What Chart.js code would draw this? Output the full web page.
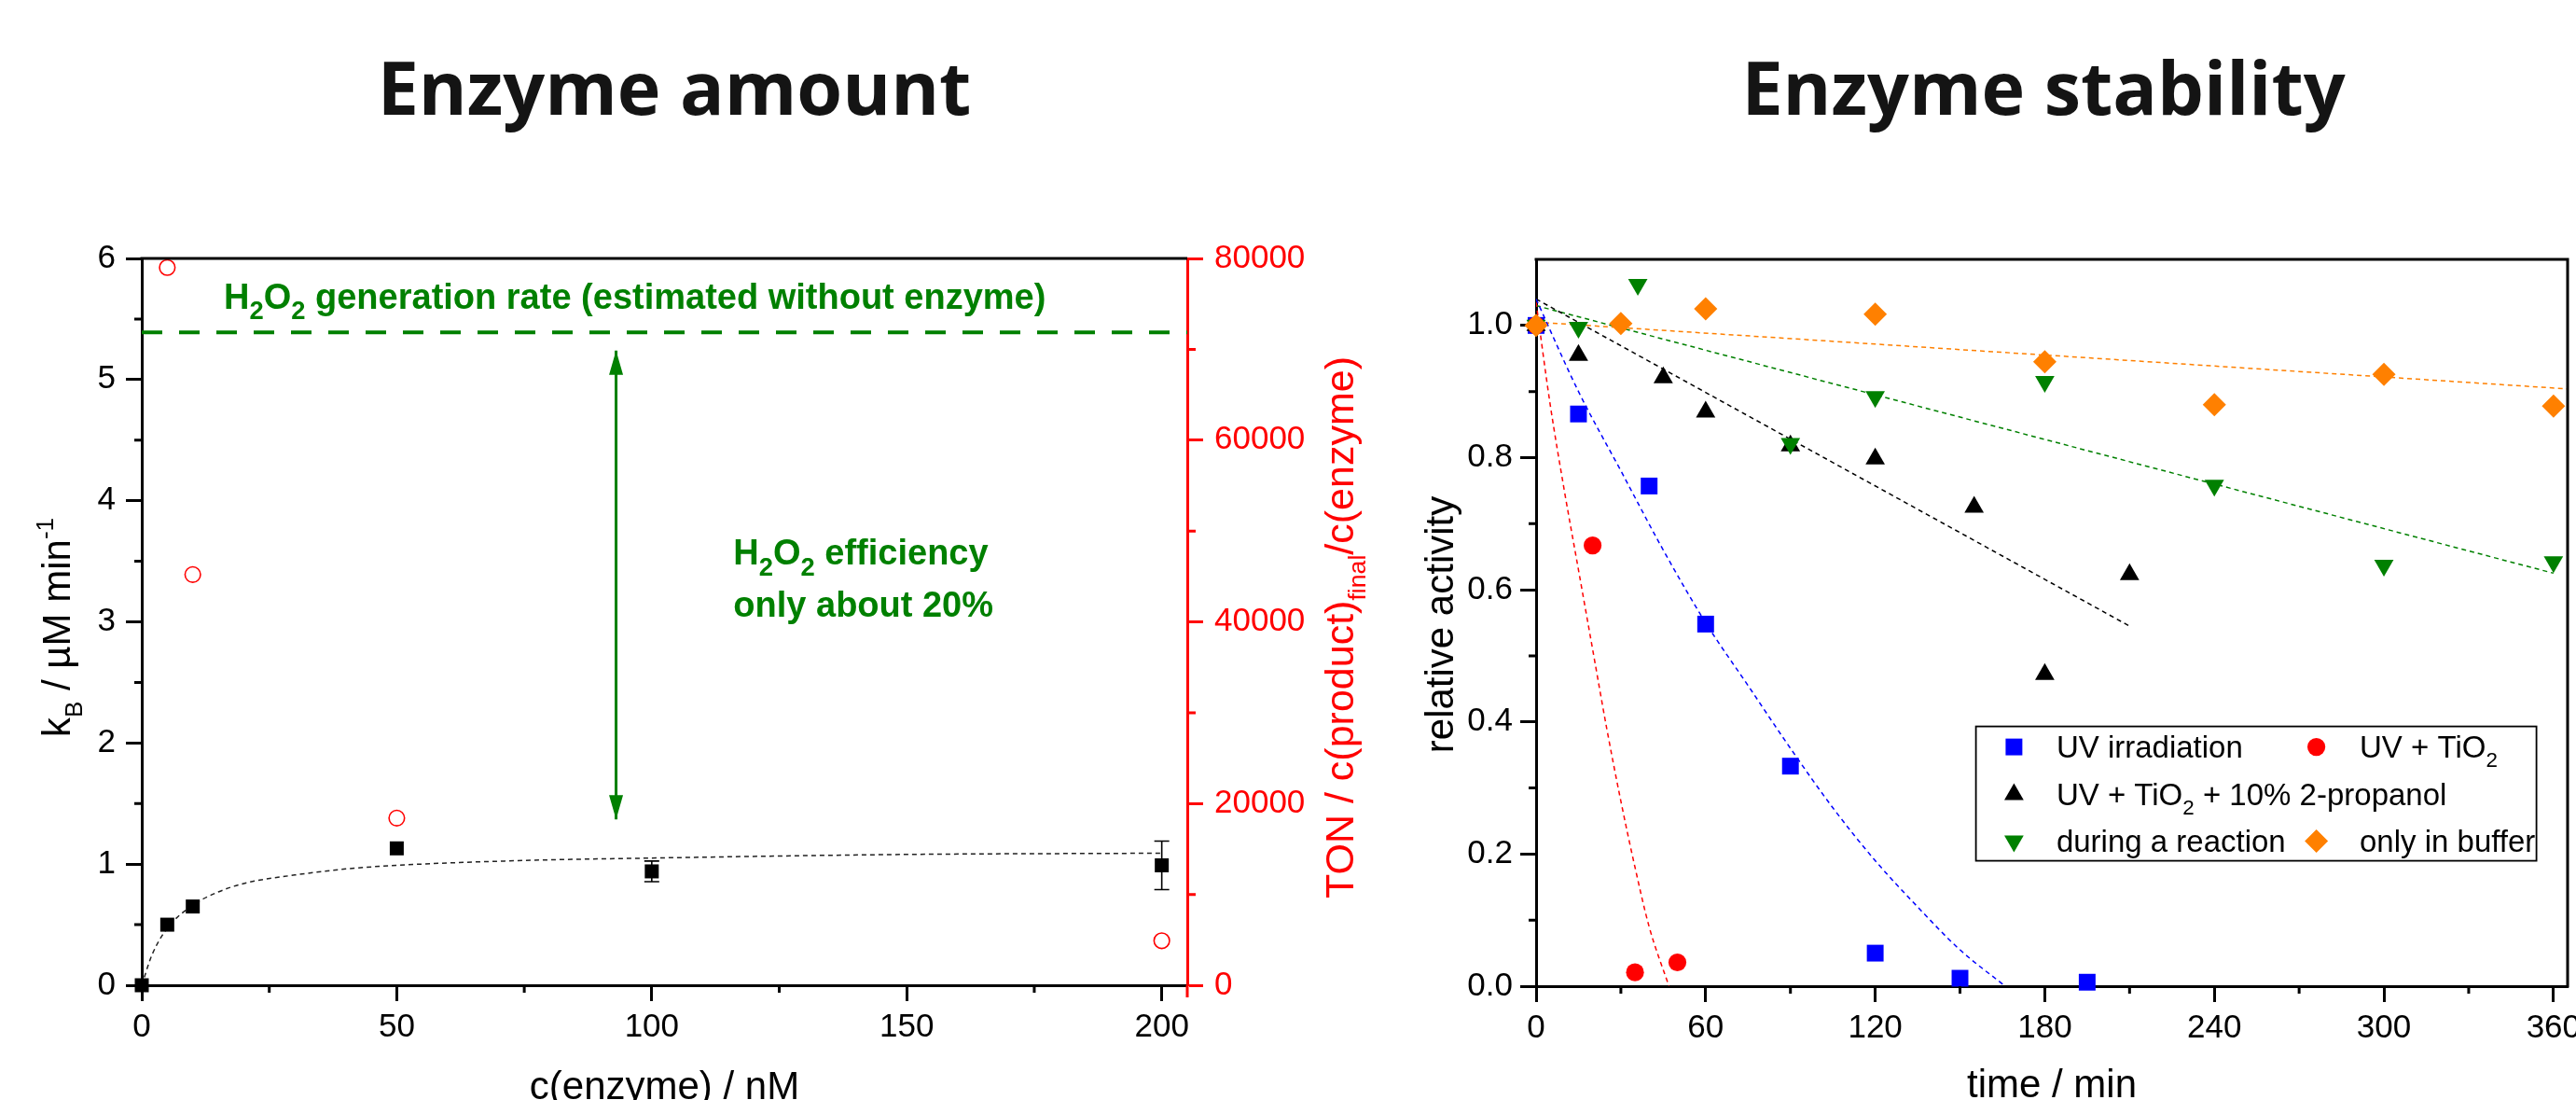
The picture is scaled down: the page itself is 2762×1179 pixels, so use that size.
<!DOCTYPE html>
<html><head><meta charset="utf-8">
<script src="https://cdn.jsdelivr.net/npm/chart.js@4.4.1/dist/chart.umd.min.js"></script>
<style>
html,body{margin:0;padding:0;background:#fff;}
body{width:2762px;height:1179px;overflow:hidden;position:relative;}
.ttl{position:absolute;top:54px;font-family:'Open Sans',sans-serif;font-weight:700;font-size:79px;line-height:78px;color:#141414;white-space:nowrap;transform:translateX(-50%);}
#w1{position:absolute;left:0;top:0;width:1480px;height:1179px;}
#w2{position:absolute;left:1480px;top:0;width:1320px;height:1179px;}
canvas{display:block;}
</style></head><body>
<div class="ttl" style="left:723px">Enzyme amount</div>
<div class="ttl" style="left:2191px">Enzyme stability</div>
<div id="w1"><canvas id="c1" width="1480" height="1179"></canvas></div>
<div id="w2"><canvas id="c2" width="1320" height="1179"></canvas></div>
<script>
// ---------------- data: left panel (enzyme amount) ----------------
const enzymeConc = [0, 5, 10, 50, 100, 200];
const kB = [0, 0.50, 0.65, 1.13, 0.94, 0.99];
const kBErr = [0, 0, 0, 0, 0.085, 0.20];
const tonConc = [5, 10, 50, 200];
const tonValues = [79000, 45200, 18400, 4900];
const kBFitX = [0, 2, 5, 10, 15, 20, 30, 40, 50, 75, 100, 150, 200];
const kBFitY = [0, 0.25, 0.47, 0.66, 0.77, 0.84, 0.91, 0.96, 0.99, 1.03, 1.05, 1.08, 1.09];
const h2o2RateX = [0, 205];
const h2o2RateY = [5.39, 5.39];
const arrowX = [93, 93];
const arrowY = [1.37, 5.24];
const concTicks = [0, 50, 100, 150, 200];
const concMinor = [25, 75, 125, 175];
const kBTicks = [0, 1, 2, 3, 4, 5, 6];
const kBMinor = [0.5, 1.5, 2.5, 3.5, 4.5, 5.5];
const tonTicks = [0, 20000, 40000, 60000, 80000];
const tonMinor = [10000, 30000, 50000, 70000];

// ---------------- data: right panel (enzyme stability) ----------------
const timeUV = [0, 15, 40, 60, 90, 120, 150, 195];
const actUV = [1.0, 0.866, 0.757, 0.548, 0.333, 0.05, 0.012, 0.006];
const timeTiO2 = [0, 20, 35, 50];
const actTiO2 = [1.0, 0.667, 0.021, 0.036];
const timeProp = [0, 15, 45, 60, 90, 120, 155, 180, 210];
const actProp = [1.0, 0.955, 0.921, 0.869, 0.818, 0.798, 0.725, 0.472, 0.623];
const timeReact = [0, 15, 36, 90, 120, 180, 240, 300, 360];
const actReact = [1.0, 0.997, 1.062, 0.821, 0.892, 0.915, 0.758, 0.637, 0.642];
const timeBuffer = [0, 30, 60, 120, 180, 240, 300, 360];
const actBuffer = [1.0, 1.003, 1.025, 1.017, 0.945, 0.880, 0.926, 0.878];
const fitTiO2X = [0, 5, 10, 15, 20, 25, 30, 35, 40, 47];
const fitTiO2Y = [1.035, 0.88, 0.75, 0.63, 0.51, 0.39, 0.28, 0.18, 0.09, 0];
const fitUVX = [0, 15, 30, 45, 60, 75, 90, 105, 120, 135, 150, 166];
const fitUVY = [1.04, 0.90, 0.78, 0.66, 0.55, 0.455, 0.36, 0.27, 0.19, 0.12, 0.055, 0];
const fitPropX = [0, 210];
const fitPropY = [1.04, 0.545];
const fitReactX = [0, 360];
const fitReactY = [1.03, 0.625];
const fitBufferX = [0, 365];
const fitBufferY = [1.005, 0.904];
const timeTicks = [0, 60, 120, 180, 240, 300, 360];
const timeMinor = [30, 90, 150, 210, 270, 330];
const actTicks = [0, 0.2, 0.4, 0.6, 0.8, 1.0];
const actMinor = [0.1, 0.3, 0.5, 0.7, 0.9];

// ---------------- helpers ----------------
const FONT = "'Liberation Sans', Arial, Helvetica, sans-serif";
const GREEN = '#008000', RED = '#ff0000', BLUE = '#0000ff', ORANGE = '#ff8000';
const pts = (xs, ys) => xs.map((x, i) => ({x, y: ys[i]}));

function drawRich(ctx, segs, x, y, o) {
  ctx.save();
  ctx.translate(x, y);
  if (o.rotate) ctx.rotate(o.rotate);
  ctx.fillStyle = o.color || '#000';
  ctx.textBaseline = 'alphabetic';
  ctx.textAlign = 'left';
  const sc = o.scriptScale || 0.68;
  const parts = segs.map(s => {
    const sz = (s.sub || s.sup) ? o.size * sc : o.size;
    const font = (o.weight || 'normal') + ' ' + sz + 'px ' + FONT;
    ctx.font = font;
    return {t: s.t, font, w: ctx.measureText(s.t).width,
            dy: s.sub ? o.size * (o.subDrop || 0.3) : (s.sup ? -o.size * 0.42 : 0)};
  });
  const total = parts.reduce((a, p) => a + p.w, 0);
  let cx = o.align === 'center' ? -total / 2 : 0;
  for (const p of parts) { ctx.font = p.font; ctx.fillText(p.t, cx, p.dy); cx += p.w; }
  ctx.restore();
}

function minorTicks(ctx, scale, values, len, color, width) {
  ctx.save();
  ctx.strokeStyle = color; ctx.lineWidth = width; ctx.lineCap = 'butt';
  ctx.beginPath();
  for (const v of values) {
    const p = scale.getPixelForValue(v);
    if (scale.position === 'bottom') { ctx.moveTo(p, scale.top); ctx.lineTo(p, scale.top + len); }
    else if (scale.position === 'left') { ctx.moveTo(scale.right, p); ctx.lineTo(scale.right - len, p); }
    else { ctx.moveTo(scale.left, p); ctx.lineTo(scale.left + len, p); }
  }
  ctx.stroke();
  ctx.restore();
}

function axis(opts) {
  const {pos, min, max, ticks, color, width, height, padding, fmt, size} = opts;
  return {
    type: 'linear', position: pos, min, max,
    afterBuildTicks: s => { s.ticks = ticks.map(v => ({value: v})); },
    afterFit: s => { if (width !== undefined) s.width = width; if (height !== undefined) s.height = height; },
    ticks: {autoSkip: false, maxRotation: 0, minRotation: 0, padding, color,
            font: {family: FONT, size: size || 35}, callback: fmt || (v => String(v))},
    grid: {display: true, drawOnChartArea: false, drawTicks: true, tickLength: 17, tickWidth: 3, tickColor: color},
    border: {display: true, color, width: 3}
  };
}

const commonOpts = {
  responsive: false, animation: false, events: [],
  plugins: {legend: {display: false}, tooltip: {enabled: false}, title: {display: false}}
};

// ---------------- left chart ----------------
const amountPlugin = {
  id: 'amountExtras',
  beforeDatasetsDraw(chart) {
    const ctx = chart.ctx, xs = chart.scales.x, ys = chart.scales.y;
    ctx.save();
    ctx.strokeStyle = '#000'; ctx.lineWidth = 1.6;
    enzymeConc.forEach((c, i) => {
      if (!kBErr[i]) return;
      const px = xs.getPixelForValue(c);
      const y1 = ys.getPixelForValue(kB[i] + kBErr[i]);
      const y2 = ys.getPixelForValue(kB[i] - kBErr[i]);
      ctx.beginPath();
      ctx.moveTo(px, y1); ctx.lineTo(px, y2);
      ctx.moveTo(px - 8, y1); ctx.lineTo(px + 8, y1);
      ctx.moveTo(px - 8, y2); ctx.lineTo(px + 8, y2);
      ctx.stroke();
    });
    ctx.restore();
  },
  afterDatasetsDraw(chart) {
    const ctx = chart.ctx, xs = chart.scales.x, ys = chart.scales.y;
    const px = xs.getPixelForValue(arrowX[0]);
    const top = ys.getPixelForValue(arrowY[1]);
    const bot = ys.getPixelForValue(arrowY[0]);
    ctx.save();
    ctx.fillStyle = GREEN;
    ctx.beginPath();
    ctx.moveTo(px, top); ctx.lineTo(px - 7.5, top + 26); ctx.lineTo(px + 7.5, top + 26); ctx.closePath();
    ctx.moveTo(px, bot); ctx.lineTo(px - 7.5, bot - 26); ctx.lineTo(px + 7.5, bot - 26); ctx.closePath();
    ctx.fill();
    ctx.restore();
  },
  afterDraw(chart) {
    const ctx = chart.ctx, a = chart.chartArea, xs = chart.scales.x, ys = chart.scales.y;
    ctx.save();
    ctx.strokeStyle = '#000'; ctx.lineWidth = 3;
    ctx.beginPath(); ctx.moveTo(a.left - 1.5, a.top); ctx.lineTo(a.right, a.top); ctx.stroke();
    ctx.strokeStyle = RED;
    ctx.beginPath(); ctx.moveTo(a.right, a.bottom); ctx.lineTo(a.right, a.bottom + 13); ctx.stroke();
    ctx.restore();
    minorTicks(ctx, xs, concMinor, 8, '#000', 3);
    minorTicks(ctx, ys, kBMinor, 8, '#000', 3);
    minorTicks(ctx, chart.scales.y1, tonMinor, 9, RED, 3);
    drawRich(ctx, [{t: 'H'}, {t: '2', sub: 1}, {t: 'O'}, {t: '2', sub: 1}, {t: ' generation rate (estimated without enzyme)'}],
      xs.getPixelForValue(16.1), ys.getPixelForValue(5.585), {size: 38, weight: 'bold', color: GREEN, scriptScale: 0.72});
    drawRich(ctx, [{t: 'H'}, {t: '2', sub: 1}, {t: 'O'}, {t: '2', sub: 1}, {t: ' efficiency'}],
      xs.getPixelForValue(116), ys.getPixelForValue(3.47), {size: 38, weight: 'bold', color: GREEN, scriptScale: 0.72});
    drawRich(ctx, [{t: 'only about 20%'}],
      xs.getPixelForValue(116), ys.getPixelForValue(3.04), {size: 38, weight: 'bold', color: GREEN});
    const cy = (a.top + a.bottom) / 2 + 6;
    drawRich(ctx, [{t: 'k'}, {t: 'B', sub: 1}, {t: ' / \u00B5M min'}, {t: '-1', sup: 1}],
      a.left - 77, cy, {size: 42, color: '#000', align: 'center', rotate: -Math.PI / 2, scriptScale: 0.62});
    drawRich(ctx, [{t: 'TON / c(product)'}, {t: 'final', sub: 1}, {t: '/c(enzyme)'}],
      a.right + 178, cy, {size: 43, color: RED, align: 'center', rotate: -Math.PI / 2, scriptScale: 0.62});
    drawRich(ctx, [{t: 'c(enzyme) / nM'}], (a.left + a.right) / 2, a.bottom + 122,
      {size: 42, color: '#000', align: 'center'});
  }
};

new Chart(document.getElementById('c1'), {
  type: 'scatter',
  data: {datasets: [
    {label: 'TON', data: pts(tonConc, tonValues), yAxisID: 'y1', pointStyle: 'circle', pointRadius: 8.3,
     borderColor: RED, backgroundColor: 'rgba(255,255,255,0)', pointBorderWidth: 1.6, order: 1, clip: false},
    {label: 'kB', data: pts(enzymeConc, kB), yAxisID: 'y', pointStyle: 'rect', pointRadius: 10.6,
     borderColor: '#000', backgroundColor: '#000', pointBorderWidth: 0, order: 2, clip: false},
    {label: 'fit', data: pts(kBFitX, kBFitY), yAxisID: 'y', showLine: true, pointRadius: 0,
     borderColor: '#222', borderWidth: 1.5, borderDash: [5, 4], cubicInterpolationMode: 'monotone', order: 5},
    {label: 'H2O2 generation rate', data: pts(h2o2RateX, h2o2RateY), yAxisID: 'y', showLine: true, pointRadius: 0,
     borderColor: GREEN, borderWidth: 4, borderDash: [22, 18], order: 6, clip: false},
    {label: 'efficiency arrow', data: pts(arrowX, arrowY), yAxisID: 'y', showLine: true, pointRadius: 0,
     borderColor: GREEN, borderWidth: 3, order: 7}
  ]},
  options: Object.assign({}, commonOpts, {
    layout: {padding: {left: 0, right: 0, top: 277, bottom: 0}},
    scales: {
      x: axis({pos: 'bottom', min: 0, max: 205, ticks: concTicks, color: '#000', height: 123, padding: 7}),
      y: axis({pos: 'left', min: 0, max: 6, ticks: kBTicks, color: '#000', width: 152, padding: 11}),
      y1: axis({pos: 'right', min: 0, max: 80000, ticks: tonTicks, color: RED, width: 207, padding: 12})
    }
  }),
  plugins: [amountPlugin]
});

// ---------------- right chart ----------------
const legendRows = [
  {ds: 0, col: 0, row: 0, text: [{t: 'UV irradiation'}]},
  {ds: 1, col: 1, row: 0, text: [{t: 'UV + TiO'}, {t: '2', sub: 1}]},
  {ds: 2, col: 0, row: 1, text: [{t: 'UV + TiO'}, {t: '2', sub: 1}, {t: ' + 10% 2-propanol'}]},
  {ds: 3, col: 0, row: 2, text: [{t: 'during a reaction'}]},
  {ds: 4, col: 1, row: 2, text: [{t: 'only in buffer'}]}
];

const stabilityPlugin = {
  id: 'stabilityExtras',
  afterDraw(chart) {
    const ctx = chart.ctx, a = chart.chartArea, xs = chart.scales.x, ys = chart.scales.y;
    ctx.save();
    ctx.strokeStyle = '#000'; ctx.lineWidth = 3;
    ctx.beginPath();
    ctx.moveTo(a.left - 1.5, a.top); ctx.lineTo(a.right, a.top); ctx.lineTo(a.right, a.bottom + 1.5);
    ctx.stroke();
    ctx.restore();
    minorTicks(ctx, xs, timeMinor, 8, '#000', 3);
    minorTicks(ctx, ys, actMinor, 8, '#000', 3);
    const bx = a.right - 634.4, by = a.top + 500.6, bw = 601, bh = 144;
    ctx.save();
    ctx.strokeStyle = '#000'; ctx.lineWidth = 1.8;
    ctx.strokeRect(bx, by, bw, bh);
    const markX = [40.8, 365], textX = [86.3, 411.4], baseY = [33.5, 84.5, 134.5];
    for (const it of legendRows) {
      const ds = chart.data.datasets[it.ds];
      ctx.fillStyle = ds.backgroundColor; ctx.strokeStyle = ds.backgroundColor;
      Chart.helpers.drawPoint(ctx, {pointStyle: ds.pointStyle, radius: ds.pointRadius,
        rotation: ds.pointRotation || 0, borderWidth: 0}, bx + markX[it.col], by + baseY[it.row] - 11.5);
      drawRich(ctx, it.text, bx + textX[it.col], by + baseY[it.row], {size: 33, color: '#000', scriptScale: 0.68});
    }
    ctx.restore();
    const cy = (a.top + a.bottom) / 2 + 2;
    drawRich(ctx, [{t: 'relative activity'}], a.left - 89, cy,
      {size: 42, color: '#000', align: 'center', rotate: -Math.PI / 2});
    drawRich(ctx, [{t: 'time / min'}], (a.left + a.right) / 2, a.bottom + 119,
      {size: 42, color: '#000', align: 'center'});
  }
};

const lineDs = (label, xs, ys, color, mono) => ({label, data: pts(xs, ys), showLine: true, pointRadius: 0,
  borderColor: color, backgroundColor: color, borderWidth: 1.5, borderDash: [5, 4],
  cubicInterpolationMode: mono ? 'monotone' : 'default', order: 20});

new Chart(document.getElementById('c2'), {
  type: 'scatter',
  data: {datasets: [
    {label: 'UV irradiation', data: pts(timeUV, actUV), pointStyle: 'rect', pointRadius: 12.7,
     backgroundColor: BLUE, borderColor: BLUE, pointBorderWidth: 0, order: 5, clip: false},
    {label: 'UV + TiO2', data: pts(timeTiO2, actTiO2), pointStyle: 'circle', pointRadius: 9.6,
     backgroundColor: RED, borderColor: RED, pointBorderWidth: 0, order: 4, clip: false},
    {label: 'UV + TiO2 + 10% 2-propanol', data: pts(timeProp, actProp), pointStyle: 'triangle', pointRadius: 12,
     backgroundColor: '#000', borderColor: '#000', pointBorderWidth: 0, order: 3, clip: false},
    {label: 'during a reaction', data: pts(timeReact, actReact), pointStyle: 'triangle', pointRotation: 180, pointRadius: 12,
     backgroundColor: GREEN, borderColor: GREEN, pointBorderWidth: 0, order: 2, clip: false},
    {label: 'only in buffer', data: pts(timeBuffer, actBuffer), pointStyle: 'rectRot', pointRadius: 12.5,
     backgroundColor: ORANGE, borderColor: ORANGE, pointBorderWidth: 0, order: 1, clip: false},
    lineDs('fit UV + TiO2', fitTiO2X, fitTiO2Y, RED, true),
    lineDs('fit UV', fitUVX, fitUVY, BLUE, true),
    lineDs('fit 2-propanol', fitPropX, fitPropY, '#000', false),
    lineDs('fit reaction', fitReactX, fitReactY, GREEN, false),
    lineDs('fit buffer', fitBufferX, fitBufferY, ORANGE, false)
  ]},
  options: Object.assign({}, commonOpts, {
    layout: {padding: {left: 0, right: 47, top: 278, bottom: 0}},
    scales: {
      x: axis({pos: 'bottom', min: 0, max: 365, ticks: timeTicks, color: '#000', height: 122, padding: 7}),
      y: axis({pos: 'left', min: 0, max: 1.1, ticks: actTicks, color: '#000', width: 167, padding: 8,
               fmt: v => v.toFixed(1)})
    }
  }),
  plugins: [stabilityPlugin]
});
</script>
</body></html>
